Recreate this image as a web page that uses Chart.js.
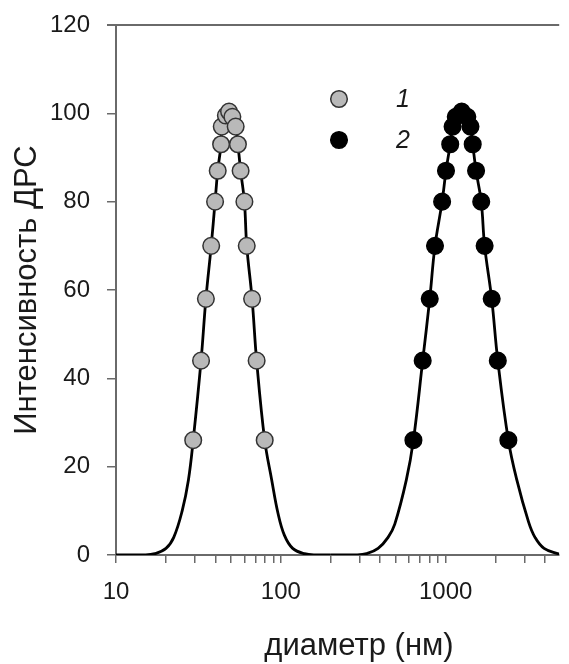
<!DOCTYPE html>
<html>
<head>
<meta charset="utf-8">
<script src="https://cdn.jsdelivr.net/npm/chart.js@4.4.1/dist/chart.umd.min.js"></script>
<style>
  html, body { margin: 0; background: #fff; }
  canvas { display: block; }
</style>
</head>
<body>
<canvas id="dlsChart" width="569" height="664"></canvas>
<script>
// measured points, sample 1 (grey) and sample 2 (black)
const sample1X = [29.4, 32.8, 35.1, 37.8, 39.9, 41.4, 43.4, 43.8, 46.4, 48.5, 50.8, 53.2, 54.9, 57.0, 60.1, 62.1, 66.9, 71.3, 79.8];
const sample1Y = [26, 44, 58, 70, 80, 87, 93, 97, 99.5, 100.4, 99.2, 97, 93, 87, 80, 70, 58, 44, 26];
const sample2X = [637, 725, 800, 861, 951, 1004, 1065, 1101, 1151, 1250, 1352, 1413, 1458, 1528, 1642, 1722, 1901, 2070, 2399];
const sample2Y = [26, 44, 58, 70, 80, 87, 93, 97, 99.2, 100.4, 99.2, 97, 93, 87, 80, 70, 58, 44, 26];

// fitted curve tails outside the measured points
const fit1LeftX = [10, 15, 17.2, 20.1, 22.4, 25.2, 27.5];
const fit1LeftY = [0, 0, 0.3, 1.5, 4, 10, 17];
const fit1RightX = [88, 96, 105, 118, 139, 165, 200];
const fit1RightY = [17, 9.5, 4.5, 1.5, 0.3, 0, 0];
const fit2LeftX = [200, 290, 331, 389, 447, 491, 577];
const fit2LeftY = [0, 0, 0.3, 1.5, 4, 7, 17];
const fit2RightX = [2700, 3180, 3480, 3950, 4880];
const fit2RightY = [17, 7.5, 4, 1.5, 0.2];

const xTickValues = [10, 20, 30, 40, 50, 60, 70, 80, 90, 100, 200, 300, 400, 500, 600, 700, 800, 900, 1000, 2000, 3000, 4000];
const xTickLabels = ['10', '100', '1000'];
const legendLabels = ['1', '2'];

const zip = (xs, ys) => xs.map((x, i) => ({ x: x, y: ys[i] }));

const fit1 = zip(fit1LeftX.concat(sample1X, fit1RightX), fit1LeftY.concat(sample1Y, fit1RightY));
const fit2 = zip(fit2LeftX.concat(sample2X, fit2RightX), fit2LeftY.concat(sample2Y, fit2RightY));

const FONT = 'Liberation Sans, Arial, sans-serif';
const AXIS = '#6a6a6a';

const framePlugin = {
    id: 'frame',
    afterDraw(chart) {
        const c = chart.ctx;
        const a = chart.chartArea;
        c.save();
        // top border
        c.strokeStyle = AXIS;
        c.lineWidth = 2;
        c.beginPath();
        c.moveTo(a.left - 9, a.top);
        c.lineTo(a.right, a.top);
        c.stroke();

        // x title, shifted to the right like in the figure
        c.fillStyle = '#1a1a1a';
        c.font = '31px ' + FONT;
        c.textAlign = 'center';
        c.textBaseline = 'middle';
        c.fillText('диаметр (нм)', 359, 646);

        // legend
        const items = [chart.data.datasets[2], chart.data.datasets[3]];
        items.forEach((ds, i) => {
            const y = 99 + i * 41;
            c.beginPath();
            c.arc(339, y, ds.pointRadius, 0, Math.PI * 2);
            c.fillStyle = ds.backgroundColor;
            c.fill();
            c.lineWidth = ds.borderWidth;
            c.strokeStyle = ds.borderColor;
            c.stroke();
            c.fillStyle = '#1a1a1a';
            c.font = 'italic 25px ' + FONT;
            c.fillText(legendLabels[i], 403, y + 1);
        });
        c.restore();
    }
};

new Chart(document.getElementById('dlsChart'), {
    type: 'scatter',
    data: {
        datasets: [
            { data: fit1, showLine: true, borderColor: '#000', borderWidth: 2.8, pointRadius: 0, tension: 0.4, order: 2 },
            { data: fit2, showLine: true, borderColor: '#000', borderWidth: 2.8, pointRadius: 0, tension: 0.4, order: 2 },
            { data: zip(sample1X, sample1Y), backgroundColor: '#b9b9b9', borderColor: '#333', borderWidth: 1.5, pointRadius: 8.3, order: 1 },
            { data: zip(sample2X, sample2Y), backgroundColor: '#000', borderColor: '#000', borderWidth: 1.5, pointRadius: 8.3, order: 0 }
        ]
    },
    options: {
        responsive: false,
        animation: false,
        layout: { padding: { top: 25, right: 0, left: 0, bottom: 0 } },
        plugins: { legend: { display: false }, tooltip: { enabled: false } },
        scales: {
            x: {
                type: 'logarithmic',
                min: 10,
                max: 4880,
                afterBuildTicks: (scale) => { scale.ticks = xTickValues.map(v => ({ value: v })); },
                afterFit: (scale) => { scale.height = 109; },
                border: { color: AXIS, width: 2 },
                grid: { drawOnChartArea: false, tickLength: 8, color: AXIS, lineWidth: 1.5 },
                ticks: {
                    autoSkip: false,
                    maxRotation: 0,
                    padding: 15,
                    color: '#1a1a1a',
                    font: { family: FONT, size: 24 },
                    callback: (v) => xTickLabels.includes(String(v)) ? String(v) : ''
                }
            },
            y: {
                min: 0,
                max: 120,
                afterFit: (scale) => {
                    scale.width = 116;
                    scale.paddingTop = 12;
                    scale.paddingBottom = 12;
                },
                border: { color: AXIS, width: 2 },
                grid: { drawOnChartArea: false, tickLength: 9, color: AXIS, lineWidth: 1.5 },
                ticks: {
                    stepSize: 20,
                    padding: 17,
                    color: '#1a1a1a',
                    font: { family: FONT, size: 24 }
                },
                title: {
                    display: true,
                    text: 'Интенсивность ДРС',
                    color: '#1a1a1a',
                    font: { family: FONT, size: 31 },
                    padding: { top: 9, bottom: 0 }
                }
            }
        }
    },
    plugins: [framePlugin]
});
</script>
</body>
</html>
